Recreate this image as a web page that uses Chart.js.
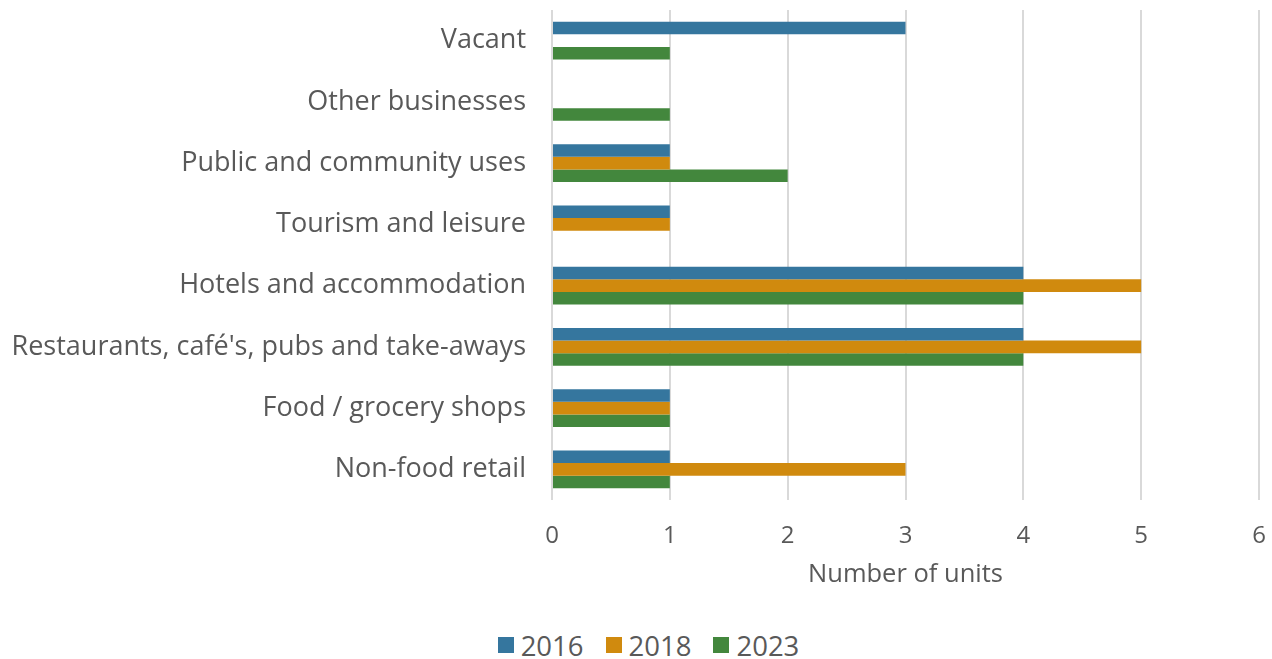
<!DOCTYPE html>
<html>
<head>
<meta charset="utf-8">
<script src="https://cdn.jsdelivr.net/npm/chart.js@4"></script>
<style>
  html, body { margin: 0; padding: 0; background: #fff; overflow: hidden; }
  #wrap { width: 1272px; height: 659px; position: relative; }
  #chartBox { position: absolute; left: 0; top: 0; width: 1272px; height: 615px; }
  #legend {
    position: absolute; left: 0; top: 628px; width: 1272px; height: 34px;
    display: flex; justify-content: center; align-items: center;
    padding-left: 25px; box-sizing: border-box;
    font-family: "Open Sans", sans-serif; font-size: 27.5px; color: #595959;
  }
  .legend-item { display: flex; align-items: center; margin: 0 11px; }
  .legend-box { width: 16px; height: 16px; margin-right: 7px; }
</style>
</head>
<body>
<div id="wrap">
  <div id="chartBox"><canvas id="unitsChart"></canvas></div>
  <div id="legend"></div>
</div>
<script>
// use categories, top to bottom
const categories = [
    'Vacant',
    'Other businesses',
    'Public and community uses',
    'Tourism and leisure',
    'Hotels and accommodation',
    "Restaurants, café's, pubs and take-aways",
    'Food / grocery shops',
    'Non-food retail'
];

const units2016 = [3, 0, 1, 1, 4, 4, 1, 1];
const units2018 = [0, 0, 1, 1, 5, 5, 1, 3];
const units2023 = [1, 1, 2, 0, 4, 4, 1, 1];

const xTicks = [0, 1, 2, 3, 4, 5, 6];

const textColor = '#595959';
const fontFamily = '"Open Sans", sans-serif';

// keep the edge labels from pushing the plot area inwards
function noEdgePadding(scale) {
    scale.paddingTop = 0;
    scale.paddingBottom = 0;
    scale.paddingLeft = 0;
    scale.paddingRight = 0;
}

const ctx = document.getElementById('unitsChart').getContext('2d');
const chart = new Chart(ctx, {
    type: 'bar',
    data: {
        labels: categories,
        datasets: [
            { label: '2016', data: units2016, backgroundColor: '#35769e' },
            { label: '2018', data: units2018, backgroundColor: '#d08a0e' },
            { label: '2023', data: units2023, backgroundColor: '#43873d' }
        ]
    },
    options: {
        indexAxis: 'y',
        responsive: true,
        maintainAspectRatio: false,
        animation: false,
        categoryPercentage: 0.62,
        barPercentage: 1.0,
        layout: {
            padding: { top: 10, right: 13, left: 0, bottom: 24.7 }
        },
        scales: {
            x: {
                min: xTicks[0],
                max: xTicks[xTicks.length - 1],
                afterBuildTicks: (scale) => {
                    scale.ticks = xTicks.map(v => ({ value: v }));
                },
                afterFit: (scale) => {
                    noEdgePadding(scale);
                    scale.height = 90.3;
                },
                grid: { color: '#d9d9d9', lineWidth: 2, drawTicks: false },
                border: { display: false },
                ticks: {
                    color: textColor,
                    padding: 21.6,
                    font: { family: fontFamily, size: 24 }
                },
                title: {
                    display: true,
                    text: 'Number of units',
                    color: textColor,
                    padding: { top: 10, bottom: 0 },
                    font: { family: fontFamily, size: 25.5 }
                }
            },
            y: {
                afterFit: (scale) => {
                    noEdgePadding(scale);
                    scale.width = 552;
                },
                grid: { display: false, drawTicks: false },
                border: { display: false },
                ticks: {
                    color: textColor,
                    padding: 26,
                    font: { family: fontFamily, size: 27 }
                }
            }
        },
        plugins: {
            legend: { display: false },
            tooltip: { enabled: false }
        }
    }
});

// legend below the chart, built from the datasets
const legendEl = document.getElementById('legend');
legendEl.innerHTML = chart.data.datasets.map(ds => `
    <div class="legend-item">
        <span class="legend-box" style="background:${ds.backgroundColor}"></span>
        <span>${ds.label}</span>
    </div>
`).join('');
</script>
</body>
</html>
